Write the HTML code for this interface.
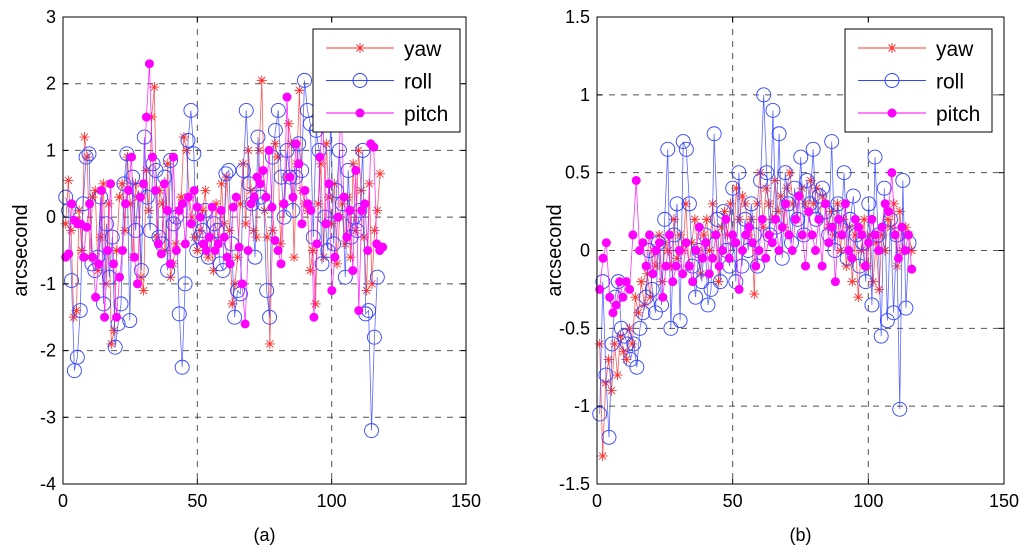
<!DOCTYPE html>
<html><head><meta charset="utf-8"><style>
body{margin:0;background:#fff;}
svg text{font-family:"Liberation Sans",Arial,sans-serif;}
</style></head><body>
<svg id="c" width="1024" height="552" xmlns="http://www.w3.org/2000/svg"></svg>
<script>
const yawA=[-0.1,0.55,-0.2,-1.5,-1.4,0.1,-0.5,1.2,0.9,-0.6,0.3,0.4,-0.8,-0.3,0.5,-1.0,0.2,-1.9,-1.7,-0.5,0.3,0.5,-0.2,0.9,0.2,-0.6,0.5,0.3,-0.9,-1.1,0.7,0.1,1.5,1.95,-0.3,0.4,0.2,-0.5,0.8,-0.9,-0.7,-0.4,0.1,0.3,1.2,1.0,0.3,0.0,-0.3,-0.5,-0.2,0.1,0.4,-0.6,-0.3,-0.8,0.2,-0.4,0.5,-0.1,0.6,-0.2,-1.3,-1.0,-0.6,0.2,0.8,-0.1,1.0,0.4,-0.2,-0.3,1.0,2.05,0.1,-0.3,-1.9,-0.2,1.1,0.9,-0.4,0.2,0.6,1.4,1.1,-0.6,0.8,1.9,0.4,0.2,0.1,-0.8,-0.5,-1.3,0.2,0.8,-0.6,1.1,0.3,-0.1,0.5,-0.7,0.0,0.2,-0.4,0.3,-0.6,0.8,-0.2,1.0,0.4,-0.3,-1.1,0.5,-1.0,-0.2,0.1,0.65];
const rollA=[0.3,0.1,-0.95,-2.3,-2.1,-1.4,0.2,0.9,0.95,-0.7,-0.8,-0.6,0.3,-1.3,-0.1,-0.9,-0.3,-1.95,-1.6,-1.3,0.5,0.95,-1.55,0.6,-0.2,0.4,-0.8,1.2,0.3,-0.2,0.8,0.7,-0.3,-0.4,0.6,-0.8,0.85,-0.1,0.0,-1.45,-2.25,-1.0,1.15,1.6,0.95,-0.5,-0.3,-0.2,0.1,-0.6,-0.4,-0.1,-0.2,-0.7,-0.8,0.65,0.7,-0.4,-1.5,-1.1,-1.15,0.7,1.6,0.5,0.2,-0.6,1.2,0.3,0.2,-1.1,-1.5,0.9,1.3,1.6,0.6,0.0,1.0,0.6,0.1,0.6,1.1,0.7,2.05,1.6,1.4,-0.3,1.3,1.0,-0.7,0.0,-0.5,1.5,-0.4,0.4,1.0,0.2,-0.9,0.7,-0.3,0.0,-0.2,0.1,1.0,-1.45,-1.4,-3.2,-1.8,-0.9];
const pitchA=[-0.6,-0.55,0.2,-0.05,-0.1,-0.1,-0.6,-0.15,0.2,-0.6,-1.2,-0.7,0.4,-1.5,-0.5,0.5,-0.7,-1.5,-0.9,-0.5,0.2,0.4,0.9,-0.6,-1.0,0.3,0.5,1.5,2.3,0.9,0.4,-0.4,-0.55,0.5,0.1,-0.7,0.9,-0.5,0.1,0.2,-0.4,0.3,-0.1,0.4,0.15,0.0,-0.4,-0.5,-0.3,0.15,-0.5,-0.4,0.1,-0.3,-0.6,-0.7,0.15,0.3,-0.45,-1.0,-1.6,-0.5,0.2,0.3,0.6,0.5,0.7,0.3,1.0,0.15,-0.35,-0.5,-0.7,0.2,1.8,0.6,0.3,1.1,0.8,-0.1,0.4,0.2,0.1,-1.5,-0.4,0.9,1.5,-0.1,0.5,-1.1,-0.6,0.0,1.8,0.3,-0.3,0.1,-0.8,0.7,-1.4,0.1,0.2,-0.5,1.1,1.05,-0.4,-0.5,-0.45];
const yawB=[-0.6,-1.32,-0.85,-0.7,-0.9,-0.6,-0.8,-0.55,-0.65,-0.7,-0.5,-0.6,-0.3,-0.4,-0.2,-0.35,-0.15,-0.3,0.0,-0.1,0.1,-0.2,0.05,0.0,-0.1,0.2,-0.05,0.1,0.0,0.3,-0.1,0.05,0.2,0.0,-0.15,0.1,0.2,0.0,0.3,0.1,-0.2,0.15,0.25,0.1,0.3,0.05,0.4,0.2,0.35,0.3,0.1,0.2,-0.28,0.3,0.5,0.15,0.4,0.3,0.2,0.45,0.25,0.35,0.15,0.4,0.5,0.3,0.2,0.35,0.4,0.3,0.25,0.45,0.3,0.4,0.2,0.35,0.3,0.15,0.25,0.1,0.3,0.0,0.2,-0.1,0.15,-0.2,0.1,-0.3,0.0,0.2,-0.1,0.1,-0.2,0.05,-0.25,0.1,0.0,0.2,0.15,0.3,-0.1,0.25,0.0,0.15,0.1,0.0];
const rollB=[-1.05,-0.2,-0.8,-1.2,-0.6,-0.3,-0.2,-0.5,-0.55,-0.6,-0.7,-0.6,-0.75,-0.5,-0.4,-0.3,0.0,-0.25,-0.4,0.05,-0.35,0.2,0.65,-0.5,0.1,0.3,-0.45,0.7,0.65,0.3,-0.1,-0.3,0.0,-0.2,0.1,-0.35,-0.25,0.75,0.2,-0.2,0.25,0.0,-0.1,0.4,-0.2,0.5,-0.1,0.2,0.0,0.3,0.1,-0.1,0.45,1.0,0.5,0.1,0.9,0.15,0.75,-0.05,0.5,0.3,0.05,0.4,0.2,0.6,0.1,0.45,0.3,0.65,0.2,0.35,0.4,0.25,0.1,0.7,0.0,0.3,0.15,0.5,-0.05,0.2,0.35,0.1,-0.1,0.05,-0.2,0.3,-0.35,0.6,0.1,-0.55,0.4,-0.45,0.2,-0.4,0.1,-1.02,0.45,-0.37,0.05];
const pitchB=[-0.25,-0.05,0.05,-0.3,-0.4,-0.35,-0.2,-0.3,-0.2,-0.25,0.1,0.45,0.0,0.05,-0.1,0.1,-0.15,0.0,0.05,-0.3,-0.1,0.1,-0.2,-0.1,0.0,-0.15,0.05,-0.1,-0.2,0.0,0.15,-0.05,0.05,-0.15,-0.05,0.1,-0.1,0.0,0.2,-0.05,0.1,0.05,-0.25,0.0,0.1,0.15,0.05,-0.1,0.0,0.2,-0.05,0.1,0.05,0.2,0.0,0.15,0.3,0.1,0.0,0.2,0.35,0.1,-0.1,0.25,0.1,0.0,0.2,-0.1,0.3,0.05,0.15,-0.2,0.2,0.1,0.3,0.0,-0.05,0.2,0.15,0.1,-0.1,0.05,0.2,0.1,0.0,0.15,0.3,0.25,0.5,0.1,-0.05,0.15,0.0,0.1,-0.12];
// sample index (x) of the last point of each series
const lastXA=[118,117,119];
const lastXB=[116,115,116];
const xTicks=[0,50,100,150];
const yTicksA=[-4,-3,-2,-1,0,1,2,3];
const yTicksB=[-1.5,-1,-0.5,0,0.5,1,1.5];
const yLabelsB=["-1.5","-1","-0.5","0","0.5","1","1.5"];
const seriesNames=["yaw","roll","pitch"];

const NS="http://www.w3.org/2000/svg";
const svg=document.getElementById('c');
function el(t,a,p){const e=document.createElementNS(NS,t);for(const k in a)e.setAttribute(k,a[k]);(p||svg).appendChild(e);return e;}

function panel(id,L,R,T,B,ymin,ymax,yt,ylab,ys,lastX,label,legX,legY){
  const g=el('g',{});
  
  
  const sx=v=>L+(v-0)/150*(R-L);
  const sy=v=>B-(v-ymin)/(ymax-ymin)*(B-T);
  el('rect',{x:L,y:T,width:R-L,height:B-T,fill:'#fff',stroke:'none'},g);
  xTicks.forEach(v=>{if(v>0&&v<150){const l=el('line',{x1:sx(v),x2:sx(v),y1:T,y2:B,stroke:'#555','stroke-dasharray':'6,6','stroke-width':1},g);}});
  yt.forEach(v=>{if(v>ymin&&v<ymax){const l=el('line',{x1:L,x2:R,y1:sy(v),y2:sy(v),stroke:'#555','stroke-dasharray':'6,6','stroke-width':1},g);}});
  const cols=['#ff3030','#3344ff','#ff00ff'];
  ys.forEach((arr,si)=>{
    const sg=el('g',{},g);
    
    
    const step=(lastX[si]-1)/(arr.length-1);
    const xi=i=>sx(1+i*step);
    const pts=arr.map((v,i)=>xi(i)+','+sy(v)).join(' ');
    el('polyline',{points:pts,fill:'none',stroke:cols[si],'stroke-width':0.8,'stroke-opacity':0.8},sg);
    arr.forEach((v,i)=>{
      const x=xi(i),y=sy(v);let m;
      if(si===0){m=el('path',{d:`M${x-5},${y}h10M${x},${y-5}v10M${x-3.5},${y-3.5}l7,7M${x-3.5},${y+3.5}l7,-7`,stroke:cols[0],'stroke-width':0.9,fill:'none'},sg);}
      else if(si===1){m=el('circle',{cx:x,cy:y,r:7,fill:'none',stroke:cols[1],'stroke-width':0.9},sg);}
      else{m=el('circle',{cx:x,cy:y,r:4.5,fill:cols[2]},sg);}
      
      
    });
  });
  el('rect',{x:L,y:T,width:R-L,height:B-T,fill:'none',stroke:'#000','stroke-width':1},g);
  xTicks.forEach(v=>{
    el('line',{x1:sx(v),x2:sx(v),y1:B,y2:B-5,stroke:'#000'},g);
    el('line',{x1:sx(v),x2:sx(v),y1:T,y2:T+5,stroke:'#000'},g);
    const t=el('text',{x:sx(v),y:B+23,'font-size':18,'text-anchor':'middle'},g);t.textContent=v;
    
  });
  yt.forEach((v,i)=>{
    el('line',{x1:L,x2:L+5,y1:sy(v),y2:sy(v),stroke:'#000'},g);
    el('line',{x1:R,x2:R-5,y1:sy(v),y2:sy(v),stroke:'#000'},g);
    const t=el('text',{x:L-7,y:sy(v)+6,'font-size':18,'text-anchor':'end'},g);t.textContent=ylab[i];
    
  });
  const yl=el('text',{x:0,y:0,'font-size':20,'text-anchor':'middle',transform:`translate(${L-36},${(T+B)/2}) rotate(-90)`},g);
  yl.textContent='arcsecond';
  const cl=el('text',{x:(L+R)/2,y:541,'font-size':18,'text-anchor':'middle'},g);
  cl.textContent=label;
  const lg=el('g',{},g);
  
  el('rect',{x:legX,y:legY,width:147,height:103,fill:'#fff',stroke:'#000','stroke-width':1},lg);
  [0,1,2].forEach(si=>{
    const y=legY+19+si*32.5,x1=legX+13,x2=legX+81,mx=legX+47;
    const eg=el('g',{},lg);
    
    el('line',{x1:x1,x2:x2,y1:y,y2:y,stroke:cols[si],'stroke-width':0.9},eg);
    if(si===0)el('path',{d:`M${mx-5},${y}h10M${mx},${y-5}v10M${mx-3.5},${y-3.5}l7,7M${mx-3.5},${y+3.5}l7,-7`,stroke:cols[0],fill:'none'},eg);
    else if(si===1)el('circle',{cx:mx,cy:y,r:7,fill:'none',stroke:cols[1]},eg);
    else el('circle',{cx:mx,cy:y,r:4.5,fill:cols[2]},eg);
    const t=el('text',{x:legX+91,y:y+8,'font-size':21},eg);t.textContent=seriesNames[si];
  });
}
panel('panel-a',63,466,17,484,-4,3,yTicksA,yTicksA.map(String),[yawA,rollA,pitchA],lastXA,'(a)',313,29);
panel('panel-b',597,1004,17,484,-1.5,1.5,yTicksB,yLabelsB,[yawB,rollB,pitchB],lastXB,'(b)',845,29);
</script>
</body></html>
